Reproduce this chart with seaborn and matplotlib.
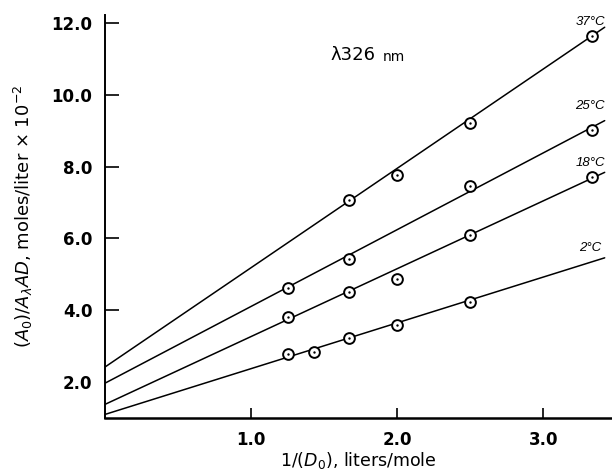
import numpy as np
import pandas as pd
import matplotlib
matplotlib.use("Agg")
import matplotlib.pyplot as plt
import seaborn as sns

temps = ["37°C", "25°C", "18°C", "2°C"]
x_37 = [1.67, 2.0, 2.5, 3.33]
y_37 = [7.07, 7.77, 9.22, 11.63]
x_25 = [1.25, 1.67, 2.5, 3.33]
y_25 = [4.62, 5.44, 7.46, 9.01]
x_18 = [1.25, 1.67, 2.0, 2.5, 3.33]
y_18 = [3.82, 4.51, 4.87, 6.09, 7.70]
x_2 = [1.25, 1.43, 1.67, 2.0, 2.5]
y_2 = [2.77, 2.85, 3.22, 3.58, 4.23]
# fitted lines: value at x=0 and at the right end
line_x = [0.0, 3.42]
line_start = [2.42, 1.97, 1.38, 1.10]
line_end = [11.88, 9.28, 7.84, 5.46]
label_y = [12.03, 9.70, 8.10, 5.73]

pts = pd.concat([
    pd.DataFrame({"x": x_37, "y": y_37, "t": "37°C"}),
    pd.DataFrame({"x": x_25, "y": y_25, "t": "25°C"}),
    pd.DataFrame({"x": x_18, "y": y_18, "t": "18°C"}),
    pd.DataFrame({"x": x_2, "y": y_2, "t": "2°C"}),
])
lines = pd.concat([
    pd.DataFrame({"x": line_x, "y": [s, e], "t": t})
    for t, s, e in zip(temps, line_start, line_end)
])

sns.set_style("ticks", {"text.color": "black", "axes.labelcolor": "black",
                        "xtick.color": "black", "ytick.color": "black",
                        "axes.edgecolor": "black"})
plt.rcParams["font.family"] = ["DejaVu Sans"]

fig = plt.figure(figsize=(6.12, 4.71), dpi=100)
ax = fig.add_axes([0.1716, 0.1125, 0.8284, 0.8556])

sns.lineplot(data=lines, x="x", y="y", units="t", estimator=None,
             color="black", lw=1.1, ax=ax, legend=False)
sns.scatterplot(data=pts, x="x", y="y", marker="o", s=60,
                facecolors="white", edgecolor="black", linewidth=1.4,
                ax=ax, legend=False, zorder=3)
sns.scatterplot(data=pts, x="x", y="y", marker="o", s=3,
                color="black", linewidth=0, ax=ax, legend=False, zorder=4)

for t, ly in zip(temps, label_y):
    ax.text(3.32, ly, t, fontsize=9.5, style="italic", ha="center",
            va="center", family="Liberation Sans")

ax.text(1.54, 11.1, "λ326", fontsize=13, va="center")
ax.text(1.90, 11.05, "nm", fontsize=10, va="center")

ax.set_xlim(0, 3.47)
ax.set_ylim(1.0, 12.22)
ax.set_xticks([1.0, 2.0, 3.0])
ax.set_xticklabels(["1.0", "2.0", "3.0"])
ax.set_yticks([2.0, 4.0, 6.0, 8.0, 10.0, 12.0])
ax.set_yticklabels(["2.0", "4.0", "6.0", "8.0", "10.0", "12.0"])
ax.tick_params(axis="y", direction="in", length=10, width=1.2, pad=9,
               labelsize=12)
ax.tick_params(axis="x", direction="in", length=7, width=1.2, pad=9,
               labelsize=12)
for lab in ax.get_xticklabels() + ax.get_yticklabels():
    lab.set_fontweight("bold")
ax.yaxis.get_major_ticks()[0].tick1line.set_visible(False)

sns.despine(ax=ax)
ax.spines["left"].set_linewidth(1.4)
ax.spines["bottom"].set_linewidth(1.8)

ax.set_xlabel(r"1/$(D_0)$, liters/mole", fontsize=12.5, labelpad=1)
ax.set_ylabel(r"$(A_0)/A_\lambda AD$, moles/liter $\times$ 10$^{-2}$",
              fontsize=13, labelpad=12)

fig.savefig("out.png", dpi=100)
